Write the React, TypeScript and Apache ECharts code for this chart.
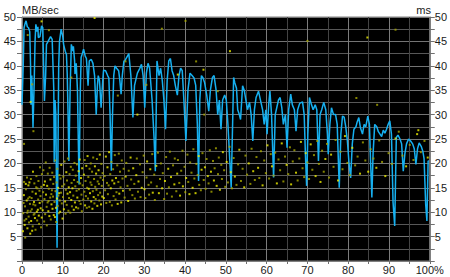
import React, { useEffect, useRef } from "react";
import * as echarts from "echarts";

// Transfer rate (MB/sec) vs position (%)
const transferRate: [number, number][] = [
  [0, 32], [0.3, 40], [0.5, 47.8], [0.8, 48.8], [1.0, 49.2], [1.3, 48], [1.6, 47.8], [1.9, 47], [2.1, 40], [2.2, 32],
  [2.4, 38], [2.7, 27.3], [3.0, 37], [3.2, 45], [3.4, 48.5], [3.7, 47], [3.9, 48], [4.0, 45.8], [4.4, 46], [4.8, 48.2],
  [5.1, 47.8], [5.3, 40], [5.5, 32.8], [5.8, 38], [6.0, 44.4], [6.4, 45], [7.0, 46], [7.4, 45.4], [7.8, 35], [7.9, 20.2],
  [8.1, 33], [8.3, 30], [8.5, 10], [8.6, 2.7], [8.8, 20], [9.0, 40], [9.2, 45], [9.6, 47.5], [10.0, 46], [10.2, 44.4],
  [10.6, 43], [10.9, 42.3], [11.1, 38], [11.3, 30], [11.5, 20.5], [11.8, 35], [12.1, 44.4], [12.5, 43], [12.6, 44], [12.9, 41],
  [13.0, 38.3], [13.3, 40.5], [13.6, 35], [13.8, 25], [14.0, 15.7], [14.3, 35], [14.5, 41.7], [14.8, 42.5], [15.1, 43.4], [15.5, 42],
  [15.8, 41.5], [16.2, 35.9], [16.5, 41], [17.0, 41.3], [17.4, 40.5], [17.8, 38], [18.2, 30], [18.5, 36], [18.7, 38], [19.0, 37],
  [19.4, 31.4], [19.8, 37], [20.0, 39.1], [20.5, 39], [21.0, 38], [21.3, 37.5], [21.6, 30], [21.9, 18.5], [22.2, 30], [22.5, 38],
  [22.8, 40], [23.2, 39.5], [23.7, 39], [24.0, 37], [24.3, 34.2], [24.6, 38], [25.0, 41], [25.2, 41], [26.2, 42.5], [26.7, 38],
  [27.2, 29.4], [27.6, 36], [28.3, 38.5], [28.9, 39.5], [29.3, 40.3], [29.7, 38], [30.1, 31.4], [30.5, 38.5], [30.9, 40.5], [31.3, 39.5],
  [31.9, 33], [32.4, 25], [32.7, 18.4], [33.1, 41], [33.6, 38], [34.0, 39.5], [34.4, 37], [34.8, 33], [35.2, 27], [35.6, 37],
  [36.0, 41], [36.4, 41.5], [36.8, 39], [37.2, 38], [37.6, 36], [38.1, 34], [38.5, 38], [38.9, 39.5], [39.3, 39], [39.7, 33],
  [40.2, 24.6], [40.7, 35], [41.2, 38.5], [41.7, 38], [42.2, 37.5], [42.6, 36], [43.0, 28], [43.3, 16.4], [43.6, 33], [44.0, 38],
  [44.4, 37.5], [44.8, 36.5], [45.3, 34], [45.8, 30.7], [46.2, 35], [46.7, 37.6], [47.1, 38], [47.6, 35], [48.0, 30], [48.4, 33],
  [48.8, 27], [49.2, 33], [49.7, 34], [50.1, 33], [50.5, 28], [51.0, 20], [51.3, 15], [51.7, 30], [51.9, 37.6], [52.2, 36.5],
  [52.6, 35.4], [52.9, 31], [53.3, 30], [53.6, 29], [54.1, 35.9], [54.5, 35], [54.9, 33], [55.3, 31], [55.8, 32.5], [56.2, 30],
  [56.6, 24.6], [57.0, 31], [57.4, 33.5], [58.0, 34.8], [58.6, 32.5], [59.0, 31], [59.4, 28], [59.8, 31], [60.1, 26], [60.5, 32],
  [60.8, 34.8], [61.2, 30], [61.7, 17.1], [62.1, 30], [62.5, 31.5], [62.9, 33], [63.3, 33.5], [63.7, 31.5], [64.1, 28], [64.6, 30],
  [65.0, 23.2], [65.4, 31], [65.9, 34.2], [66.3, 32], [66.8, 31], [67.2, 26.6], [67.6, 31], [68.1, 32.3], [68.8, 32.6], [69.2, 30],
  [69.5, 22], [69.8, 15.4], [70.1, 26], [70.5, 33.5], [71.0, 32], [71.4, 31], [71.9, 32], [72.3, 31], [72.7, 20.5], [73.1, 30],
  [73.5, 31], [74.0, 32.5], [74.5, 31], [74.9, 26], [75.1, 21.9], [75.5, 28], [75.9, 31.4], [76.4, 30], [76.9, 30], [77.3, 28],
  [77.8, 15], [78.2, 26], [78.6, 29.7], [79.0, 29.5], [79.4, 27.5], [79.8, 24.6], [80.2, 20], [80.6, 17], [81.0, 24], [81.4, 27],
  [81.9, 27.5], [82.2, 28.5], [82.6, 29.4], [83.0, 27.3], [83.5, 26], [83.9, 28], [84.3, 27.5], [84.8, 29.7], [85.2, 28], [85.5, 20],
  [85.8, 13], [86.1, 22], [86.5, 28], [87.0, 27.5], [87.4, 26.5], [87.8, 26], [88.2, 25.5], [88.6, 26.8], [89.0, 26.2], [89.4, 27],
  [89.8, 28], [90.2, 28.7], [90.6, 26], [91.0, 12], [91.2, 9.6], [91.4, 7.2], [91.8, 25.3], [92.2, 25.8], [92.7, 25], [93.1, 24],
  [93.5, 18.4], [93.9, 22], [94.3, 24], [94.8, 25], [95.3, 24.6], [95.8, 24], [96.2, 23], [96.6, 19.8], [97.0, 23], [97.4, 24.2],
  [97.9, 23.5], [98.3, 22.5], [98.6, 21], [99.0, 11.6], [99.3, 8.2], [99.6, 20.5], [99.8, 20.5],
];

// Access time (ms) samples, by position band
const accessA: [number, number][] = [
  [0.23, 6.1], [0.31, 9.8], [0.38, 11.9], [0.46, 13.5], [0.52, 16.2], [0.61, 8.3], [0.66, 7.4], [0.74, 11.2], [0.79, 4.8], [0.93, 15.8],
  [0.97, 14.7], [1.04, 8.6], [1.16, 12.4], [1.22, 17.1], [1.29, 9.9], [1.33, 6.7], [1.42, 10.3], [1.51, 12.8], [1.57, 15.5], [1.63, 9.1],
  [1.71, 7.9], [1.82, 16.1], [1.86, 13.1], [1.95, 11.7], [2.02, 5.6], [2.09, 10.2], [2.18, 16.8], [2.24, 8.2], [2.36, 12.9], [2.41, 10.6],
  [2.49, 6.2], [2.56, 14.2], [2.63, 7.1], [2.69, 18.3], [2.78, 11.6], [2.87, 9.5], [2.94, 12.1], [3.03, 15.9], [3.08, 9.7], [3.17, 8.8],
  [3.26, 11.4], [3.31, 6.4], [3.39, 13.8], [3.48, 15.1], [3.53, 17.4], [3.64, 10.1], [3.72, 8.3], [3.77, 14.9], [3.89, 10.5], [3.96, 12.6],
  [4.03, 16.4], [4.12, 9.3], [4.19, 7.6], [4.28, 14.4], [4.34, 11.9], [4.41, 19.2], [4.53, 13.3], [4.58, 10.8], [4.67, 6.9], [4.73, 15.2],
  [4.84, 8.9], [4.88, 17.8], [4.97, 12.2],
];
const accessB: [number, number][] = [
  [5.07, 10.4], [5.18, 14.1], [5.24, 18.6], [5.37, 15.6], [5.43, 8.1], [5.51, 12.7], [5.62, 16.3], [5.68, 9.6], [5.83, 20.2], [5.88, 13.6],
  [6.04, 11.1], [6.09, 7.3], [6.17, 15.4], [6.28, 12.0], [6.33, 17.9], [6.46, 10.2], [6.52, 12.3], [6.57, 14.8], [6.71, 9.2], [6.77, 19.1],
  [6.92, 13.0], [6.98, 16.7], [7.06, 8.5], [7.19, 13.7], [7.23, 11.6], [7.34, 14.5], [7.42, 18.1], [7.48, 10.7], [7.61, 13.2], [7.67, 15.8],
  [7.79, 9.4], [7.86, 17.2], [7.97, 12.1], [8.08, 9.0], [8.13, 20.6], [8.21, 14.3], [8.32, 10.9], [8.38, 8.0], [8.47, 16.1], [8.59, 12.8],
  [8.66, 18.9], [8.74, 11.3], [8.86, 15.0], [8.93, 13.4], [9.02, 9.8], [9.11, 13.9], [9.16, 17.6], [9.27, 12.4], [9.36, 10.1], [9.44, 16.9],
  [9.57, 14.0], [9.63, 19.7], [9.76, 11.8], [9.82, 15.3], [9.94, 8.7],
];
const accessC: [number, number][] = [
  [10.06, 13.1], [10.14, 17.3], [10.27, 10.6], [10.36, 15.7], [10.43, 20.4], [10.57, 12.2], [10.68, 9.7], [10.74, 14.6], [10.87, 18.2], [10.96, 11.5],
  [11.03, 16.5], [11.17, 13.8], [11.26, 21.0], [11.38, 10.3], [11.47, 15.1], [11.54, 12.9], [11.66, 17.8], [11.79, 14.1], [11.84, 9.9], [11.97, 19.3],
  [12.08, 12.5], [12.16, 16.0], [12.24, 11.2], [12.37, 14.9], [12.46, 18.7], [12.58, 13.4], [12.69, 10.5], [12.77, 16.6], [12.86, 20.1], [12.98, 12.0],
  [13.07, 15.3], [13.18, 17.5], [13.26, 11.0], [13.39, 14.4], [13.48, 19.8], [13.57, 13.0], [13.66, 16.2], [13.78, 10.8], [13.87, 18.4], [13.96, 14.7],
  [14.07, 12.3], [14.16, 20.8], [14.27, 15.9], [14.38, 11.7], [14.46, 17.0], [14.58, 13.6], [14.67, 10.2], [14.76, 19.0], [14.88, 15.5],
];
const accessD: [number, number][] = [
  [15.04, 12.6], [15.17, 17.7], [15.28, 14.2], [15.36, 20.7], [15.47, 11.4], [15.58, 16.4], [15.66, 13.3], [15.77, 19.5], [15.89, 10.9], [15.97, 15.0],
  [16.08, 21.5], [16.19, 12.8], [16.27, 17.2], [16.36, 14.8], [16.48, 11.1], [16.57, 18.9], [16.68, 13.9], [16.79, 16.1], [16.86, 20.0], [16.98, 12.2],
  [17.06, 15.6], [17.18, 18.3], [17.27, 10.7], [17.37, 14.3], [17.46, 21.2], [17.58, 13.1], [17.67, 16.8], [17.76, 11.8], [17.88, 19.4], [17.96, 15.2],
  [18.07, 12.7], [18.17, 17.9], [18.26, 14.6], [18.38, 20.9], [18.47, 11.3], [18.56, 16.3], [18.67, 13.5], [18.78, 18.6], [18.86, 15.8], [18.97, 12.4],
  [19.08, 21.8], [19.16, 14.0], [19.27, 17.1], [19.38, 11.6], [19.46, 19.9], [19.57, 15.4], [19.68, 13.2], [19.77, 18.0], [19.88, 16.6],
];
const accessE: [number, number][] = [
  [20.06, 12.9], [20.27, 17.4], [20.38, 14.5], [20.56, 21.4], [20.67, 11.9], [20.84, 16.0], [20.96, 19.2], [21.07, 13.7], [21.24, 15.5], [21.36, 22.3],
  [21.53, 12.1], [21.64, 17.8], [21.77, 14.9], [21.93, 20.3], [22.04, 11.4], [22.16, 16.5], [22.34, 18.8], [22.47, 13.3], [22.63, 15.9], [22.76, 21.7],
  [22.94, 12.6], [23.04, 17.0], [23.17, 14.1], [23.36, 19.6], [23.46, 11.7], [23.63, 16.2], [23.74, 22.0], [23.86, 13.8], [24.04, 18.3], [24.17, 15.1],
  [24.34, 12.0], [24.47, 20.6], [24.64, 16.9], [24.76, 14.4], [24.93, 18.9],
];
const accessF: [number, number][] = [
  [25.17, 13.0], [25.43, 17.3], [25.58, 20.1], [25.86, 15.4], [26.04, 12.3], [26.17, 18.5], [26.46, 14.6], [26.63, 21.2], [26.77, 16.7], [27.06, 13.5],
  [27.27, 19.0], [27.54, 15.8], [27.68, 12.8], [28.03, 17.6], [28.16, 21.0], [28.44, 14.2], [28.57, 16.3], [28.93, 19.8], [29.07, 13.1], [29.36, 15.0],
  [29.58, 18.2], [29.84, 21.6], [30.04, 14.7], [30.26, 12.9], [30.54, 17.1], [30.68, 20.4], [31.03, 15.6], [31.17, 13.6], [31.46, 18.8], [31.66, 16.1],
  [31.94, 21.9], [32.07, 14.0], [32.43, 17.7], [32.58, 12.5], [32.94, 19.5], [33.06, 15.3], [33.34, 22.2], [33.57, 13.9], [33.84, 16.8], [34.07, 20.0],
  [34.36, 14.9], [34.53, 18.0], [34.86, 12.7],
];
const accessG: [number, number][] = [
  [35.06, 16.4], [35.34, 21.3], [35.57, 13.8], [35.86, 18.9], [36.03, 15.1], [36.27, 22.4], [36.54, 17.2], [36.76, 13.2], [37.04, 19.6], [37.36, 15.7],
  [37.47, 21.0], [37.84, 14.3], [38.06, 17.9], [38.24, 20.7], [38.57, 16.0], [38.76, 13.4], [39.04, 18.5], [39.36, 22.6], [39.46, 15.3], [39.87, 19.3],
  [40.04, 14.1], [40.26, 17.0], [40.57, 21.8], [40.77, 16.2], [41.06, 13.7], [41.24, 20.2], [41.56, 18.1], [41.84, 15.0], [42.03, 22.9], [42.27, 16.9],
  [42.56, 13.9], [42.76, 19.9], [43.07, 17.6], [43.34, 21.5], [43.46, 15.6], [43.86, 14.5], [44.04, 18.7], [44.26, 22.1], [44.57, 16.6], [44.86, 19.2],
  [45.04, 14.8], [45.26, 20.9], [45.57, 17.4], [45.76, 15.9], [46.06, 22.7], [46.34, 18.3], [46.46, 14.2], [46.84, 20.5], [47.06, 16.5], [47.24, 19.0],
  [47.56, 23.1], [47.74, 15.4], [48.07, 17.8], [48.26, 21.2], [48.54, 14.6], [48.87, 19.7], [49.03, 16.8], [49.26, 22.3], [49.57, 18.6], [49.84, 15.2],
];
const accessH: [number, number][] = [
  [50.2, 20.3], [50.5, 16.1], [50.9, 23.4], [51.2, 18.2], [51.5, 14.9], [51.9, 21.1], [52.2, 17.3], [52.6, 15.6], [53.0, 19.8], [53.3, 22.8],
  [53.7, 16.4], [54.1, 18.9], [54.5, 15.1], [54.8, 21.6], [55.2, 17.7], [55.6, 20.0], [56.0, 15.8], [56.3, 23.0], [56.7, 18.4], [57.1, 16.6],
  [57.5, 21.3], [57.9, 19.1], [58.2, 17.0], [58.6, 22.5], [59.0, 15.5], [59.4, 20.6], [59.8, 18.0], [60.2, 23.7], [60.6, 16.9], [61.0, 21.9],
  [61.3, 19.4], [61.7, 17.5], [62.1, 22.2], [62.5, 15.9], [62.9, 20.8], [63.3, 18.6], [63.7, 24.1], [64.1, 16.3], [64.5, 21.4], [64.9, 19.7],
  [65.3, 17.8], [65.7, 23.3], [66.0, 15.7], [66.4, 20.4], [66.8, 22.7], [67.2, 18.1], [67.6, 16.5], [68.0, 21.0], [68.4, 24.4], [68.8, 19.0],
  [69.2, 17.2], [69.6, 22.1], [70.0, 20.2], [70.4, 16.8], [70.8, 23.9], [71.2, 18.7], [71.6, 21.7], [72.0, 17.4], [72.4, 24.6], [72.8, 19.9],
  [73.2, 16.2], [73.6, 22.6], [74.0, 18.3], [74.4, 20.9], [74.8, 24.0],
];
const accessI: [number, number][] = [
  [75.3, 17.1], [75.8, 21.8], [76.4, 19.3], [76.9, 24.8], [77.5, 16.5], [78.1, 22.4], [78.6, 18.8], [79.2, 25.6], [79.8, 20.1], [80.4, 17.6],
  [81.0, 23.2], [81.7, 19.6], [82.3, 21.4], [82.9, 17.9], [83.6, 24.3], [84.2, 20.6], [84.9, 18.3], [85.5, 22.9], [86.2, 21.0], [86.9, 19.1],
  [87.6, 24.7], [88.3, 20.3], [89.1, 17.4], [89.9, 22.1], [90.7, 19.9], [91.6, 25.1], [92.4, 26.5], [93.3, 21.6], [94.2, 19.4], [95.1, 23.8],
  [96.0, 20.7], [96.9, 26.0], [97.8, 22.3], [98.7, 24.6], [99.5, 21.2],
];
const accessOutliers: [number, number][] = [
  [0.5, 24], [1.4, 46.3], [2.1, 32.6], [2.5, 36.2], [2.8, 26.6], [4.8, 49.1], [6.6, 47.3], [12.1, 37.6], [17.8, 49.8], [23.5, 33.9],
  [25.4, 40.9], [28.3, 30], [30.5, 36.1], [34.3, 47.6], [38.2, 38.2], [40.1, 49.2], [42.7, 40.9], [44.5, 39.2], [44.7, 30], [48, 34.8],
  [51, 43], [70, 45.1], [82, 33.4], [84.7, 45.8], [87.1, 32], [91.6, 47.4], [97.2, 26.8],
];

const leftAxisTitle = "MB/sec";
const rightAxisTitle = "ms";

const FONT = "'Liberation Sans', Arial, sans-serif";
const LABEL_COLOR = "#1a1a1a";
const TICK_COLOR = "#707070";

export default function App() {
  const ref = useRef<HTMLDivElement>(null);
  useEffect(() => {
    if (!ref.current) return;
    const chart = echarts.init(ref.current, undefined, { renderer: "svg" });
    const accessAll = [
      ...accessA, ...accessB, ...accessC, ...accessD, ...accessE,
      ...accessF, ...accessG, ...accessH, ...accessI, ...accessOutliers,
    ];
    const yAxisCommon = {
      type: "value",
      min: 0,
      max: 50,
      interval: 5,
      axisLine: { show: true, lineStyle: { color: "#808080" } },
      axisTick: { show: true, length: 5, lineStyle: { color: TICK_COLOR } },
      minorTick: { show: true, splitNumber: 2, length: 5, lineStyle: { color: TICK_COLOR } },
      axisLabel: {
        color: LABEL_COLOR,
        fontSize: 11,
        fontFamily: FONT,
        margin: 6,
        showMinLabel: false,
      },
    };
    chart.setOption({
      animation: false,
      backgroundColor: "#ffffff",
      grid: {
        left: 22,
        right: 19,
        top: 17,
        bottom: 16,
        show: true,
        backgroundColor: "#000000",
        borderColor: "#808080",
        borderWidth: 1,
      },
      graphic: [
        {
          type: "text",
          left: 22,
          top: 4,
          style: { text: leftAxisTitle, fill: LABEL_COLOR, font: `11px ${FONT}` },
        },
        {
          type: "text",
          right: 19,
          top: 4,
          style: { text: rightAxisTitle, fill: LABEL_COLOR, font: `11px ${FONT}` },
        },
      ],
      xAxis: {
        type: "value",
        min: 0,
        max: 100,
        interval: 10,
        axisLine: { show: true, lineStyle: { color: "#808080" } },
        axisTick: { show: true, length: 3, lineStyle: { color: TICK_COLOR } },
        minorTick: { show: true, splitNumber: 2, length: 3, lineStyle: { color: TICK_COLOR } },
        splitLine: { show: true, lineStyle: { color: "#7c7c7c", width: 1 } },
        minorSplitLine: { show: true, lineStyle: { color: "#444444", width: 1 } },
        axisLabel: {
          color: LABEL_COLOR,
          fontSize: 11,
          fontFamily: FONT,
          margin: 3,
          formatter: (v: number) => (v === 100 ? "100%" : String(v)),
        },
      },
      yAxis: [
        {
          ...yAxisCommon,
          position: "left",
          splitLine: { show: true, lineStyle: { color: "#747474", width: 1 } },
          minorSplitLine: { show: true, lineStyle: { color: "#585858", width: 1 } },
        },
        {
          ...yAxisCommon,
          position: "right",
          splitLine: { show: false },
          minorSplitLine: { show: false },
          axisLabel: { ...yAxisCommon.axisLabel, margin: 5 },
        },
      ],
      series: [
        {
          type: "scatter",
          name: "Access time",
          xAxisIndex: 0,
          yAxisIndex: 1,
          data: accessAll,
          symbol: "rect",
          symbolSize: 2,
          itemStyle: {
            color: (p: any) => (p.dataIndex % 3 === 0 ? "#f0f000" : "#a8a800"),
          },
          silent: true,
          z: 3,
        },
        {
          type: "line",
          name: "Transfer rate",
          xAxisIndex: 0,
          yAxisIndex: 0,
          data: transferRate,
          showSymbol: false,
          symbol: "none",
          lineStyle: { color: "#16b0f0", width: 1.5 },
          silent: true,
          z: 2,
        },
      ],
    });
    return () => chart.dispose();
  }, []);
  return (
    <div
      ref={ref}
      style={{ position: "absolute", left: 0, top: 0, width: 450, height: 277 }}
    />
  );
}
